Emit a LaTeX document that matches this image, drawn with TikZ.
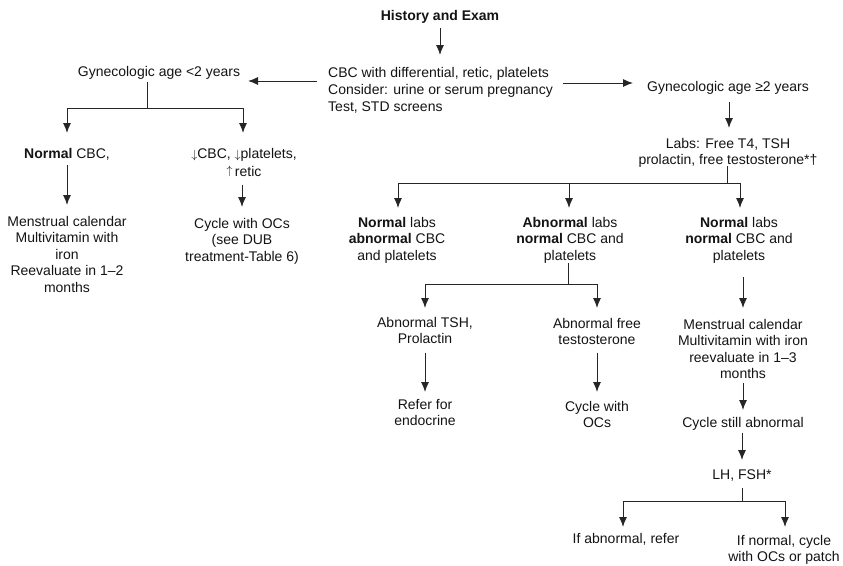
\documentclass[tikz,border=0pt]{standalone}
\usepackage{fontspec}
\setmainfont{Liberation Sans}
\usetikzlibrary{arrows.meta,calc}
\definecolor{ink}{HTML}{141414}
\definecolor{wire}{HTML}{262626}
\newcommand{\dn}{{\fontsize{12}{12}\selectfont$\downarrow$}}
\newcommand{\upa}{\raisebox{2pt}{\fontsize{12}{12}\selectfont$\uparrow$}}
\begin{document}
\begin{tikzpicture}[x=1pt,y=-1pt,
  txt/.style={anchor=base,align=center,inner sep=0pt,text=ink,font=\fontsize{14}{16.5}\selectfont},
  ln/.style={draw=wire,line width=1pt},
  arr/.style={ln,-{Latex[length=10pt,width=8pt]}}]
\useasboundingbox[fill=white] (0,0) rectangle (843,565);

% nodes (base anchor = baseline of the last line)
\node[txt] (hist) at (440,20) {\textbf{History and Exam}};
\node[txt,anchor=base west,align=left,font=\fontsize{14}{17}\selectfont] (cbc) at (328,111)
  {CBC with differential, retic, platelets\\Consider: urine or serum pregnancy\\Test, STD screens};
\node[txt] (age1) at (159,76) {Gynecologic age <2 years};
\node[txt] (age2) at (728,91) {Gynecologic age ≥2 years};

\node[txt] (normcbc) at (67,158) {\textbf{Normal} CBC,};
\node[txt] (menst1) at (67,292) {Menstrual calendar\\Multivitamin with\\iron\\Reevaluate in 1–2\\months};
\node[txt,font=\fontsize{14}{18}\selectfont] (lowcbc) at (244,176) {\dn CBC, \dn platelets,\\\upa\,retic};
\node[txt] (cyc1) at (242,261) {Cycle with OCs\\(see DUB\\treatment-Table 6)};

\node[txt] (labs) at (728,164.5) {Labs: Free T4, TSH\\prolactin, free testosterone*†};
\node[txt] (n1) at (397,260) {\textbf{Normal} labs\\\textbf{abnormal} CBC\\and platelets};
\node[txt] (n2) at (570,260) {\textbf{Abnormal} labs\\\textbf{normal} CBC and\\platelets};
\node[txt] (n3) at (739,260) {\textbf{Normal} labs\\\textbf{normal} CBC and\\platelets};

\node[txt] (tsh) at (425,343.5) {Abnormal TSH,\\Prolactin};
\node[txt] (fte) at (597,344.5) {Abnormal free\\testosterone};
\node[txt] (ref) at (425,425.5) {Refer for\\endocrine};
\node[txt] (cyc2) at (597,427.5) {Cycle with\\OCs};

\node[txt] (menst2) at (743,378.5) {Menstrual calendar\\Multivitamin with iron\\reevaluate in 1–3\\months};
\node[txt] (still) at (743,427) {Cycle still abnormal};
\node[txt] (lhfsh) at (742,479) {LH, FSH*};
\node[txt] (ifab) at (626,543) {If abnormal, refer};
\node[txt] (ifnorm) at (784,561.5) {If normal, cycle\\with OCs or patch};

% branch points
\coordinate (b1) at ($(age1.base)+(-12,32)$);
\coordinate (b2) at ($(labs.base)+(-1,18.5)$);
\coordinate (b3) at ($(n2.base)+(-2,24)$);
\coordinate (b4) at ($(lhfsh.base)+(0,22)$);

% connectors
\draw[arr] ($(hist.base)+(0,8)$) -- ($(hist.base)+(0,35)$);
\draw[arr] ($(cbc.base west)+(-11,-30)$) -- ($(age1.base)+(89,5)$);
\draw[arr] ($(cbc.base west)+(235,-28)$) -- ($(age2.base)+(-95,-8)$);

\draw[ln] ($(age1.base)+(-12,6)$) -- (b1);
\draw[arr] (b1) -| ($(normcbc.base)+(0,-25)$);
\draw[arr] (b1) -| ($(lowcbc.base)+(-1,-43)$);
\draw[arr] ($(normcbc.base)+(0,7)$) -- ($(menst1.base)+(0,-87)$);
\draw[arr] ($(lowcbc.base)+(-2,9)$) -- ($(cyc1.base)+(0,-54)$);

\draw[arr] ($(age2.base)+(1,11)$) -- ($(labs.base)+(1,-36.5)$);
\draw[ln] ($(labs.base)+(-1,1.5)$) -- (b2);
\draw[arr] (b2) -| ($(n1.base)+(1,-52)$);
\draw[arr] (b2) -| ($(n3.base)+(1,-52)$);
\draw[arr] ($(n2.base)+(-1,-77)$) -- ($(n2.base)+(-1,-52)$);

\draw[ln] ($(n2.base)+(-2,3)$) -- (b3);
\draw[arr] (b3) -| ($(tsh.base)+(0,-35.5)$);
\draw[arr] (b3) -| ($(fte.base)+(0,-36.5)$);
\draw[arr] ($(tsh.base)+(0,9.5)$) -- ($(ref.base)+(0,-33.5)$);
\draw[arr] ($(fte.base)+(0,8.5)$) -- ($(cyc2.base)+(0,-35.5)$);

\draw[arr] ($(n3.base)+(4,17)$) -- ($(menst2.base)+(0,-70.5)$);
\draw[arr] ($(menst2.base)+(0,4.5)$) -- ($(still.base)+(0,-17)$);
\draw[arr] ($(still.base)+(-1,6)$) -- ($(lhfsh.base)+(0,-19)$);
\draw[ln] ($(lhfsh.base)+(0,9)$) -- (b4);
\draw[arr] (b4) -| ($(ifab.base)+(-3,-16)$);
\draw[arr] (b4) -| ($(ifnorm.base)+(1,-34.5)$);
\end{tikzpicture}
\end{document}
